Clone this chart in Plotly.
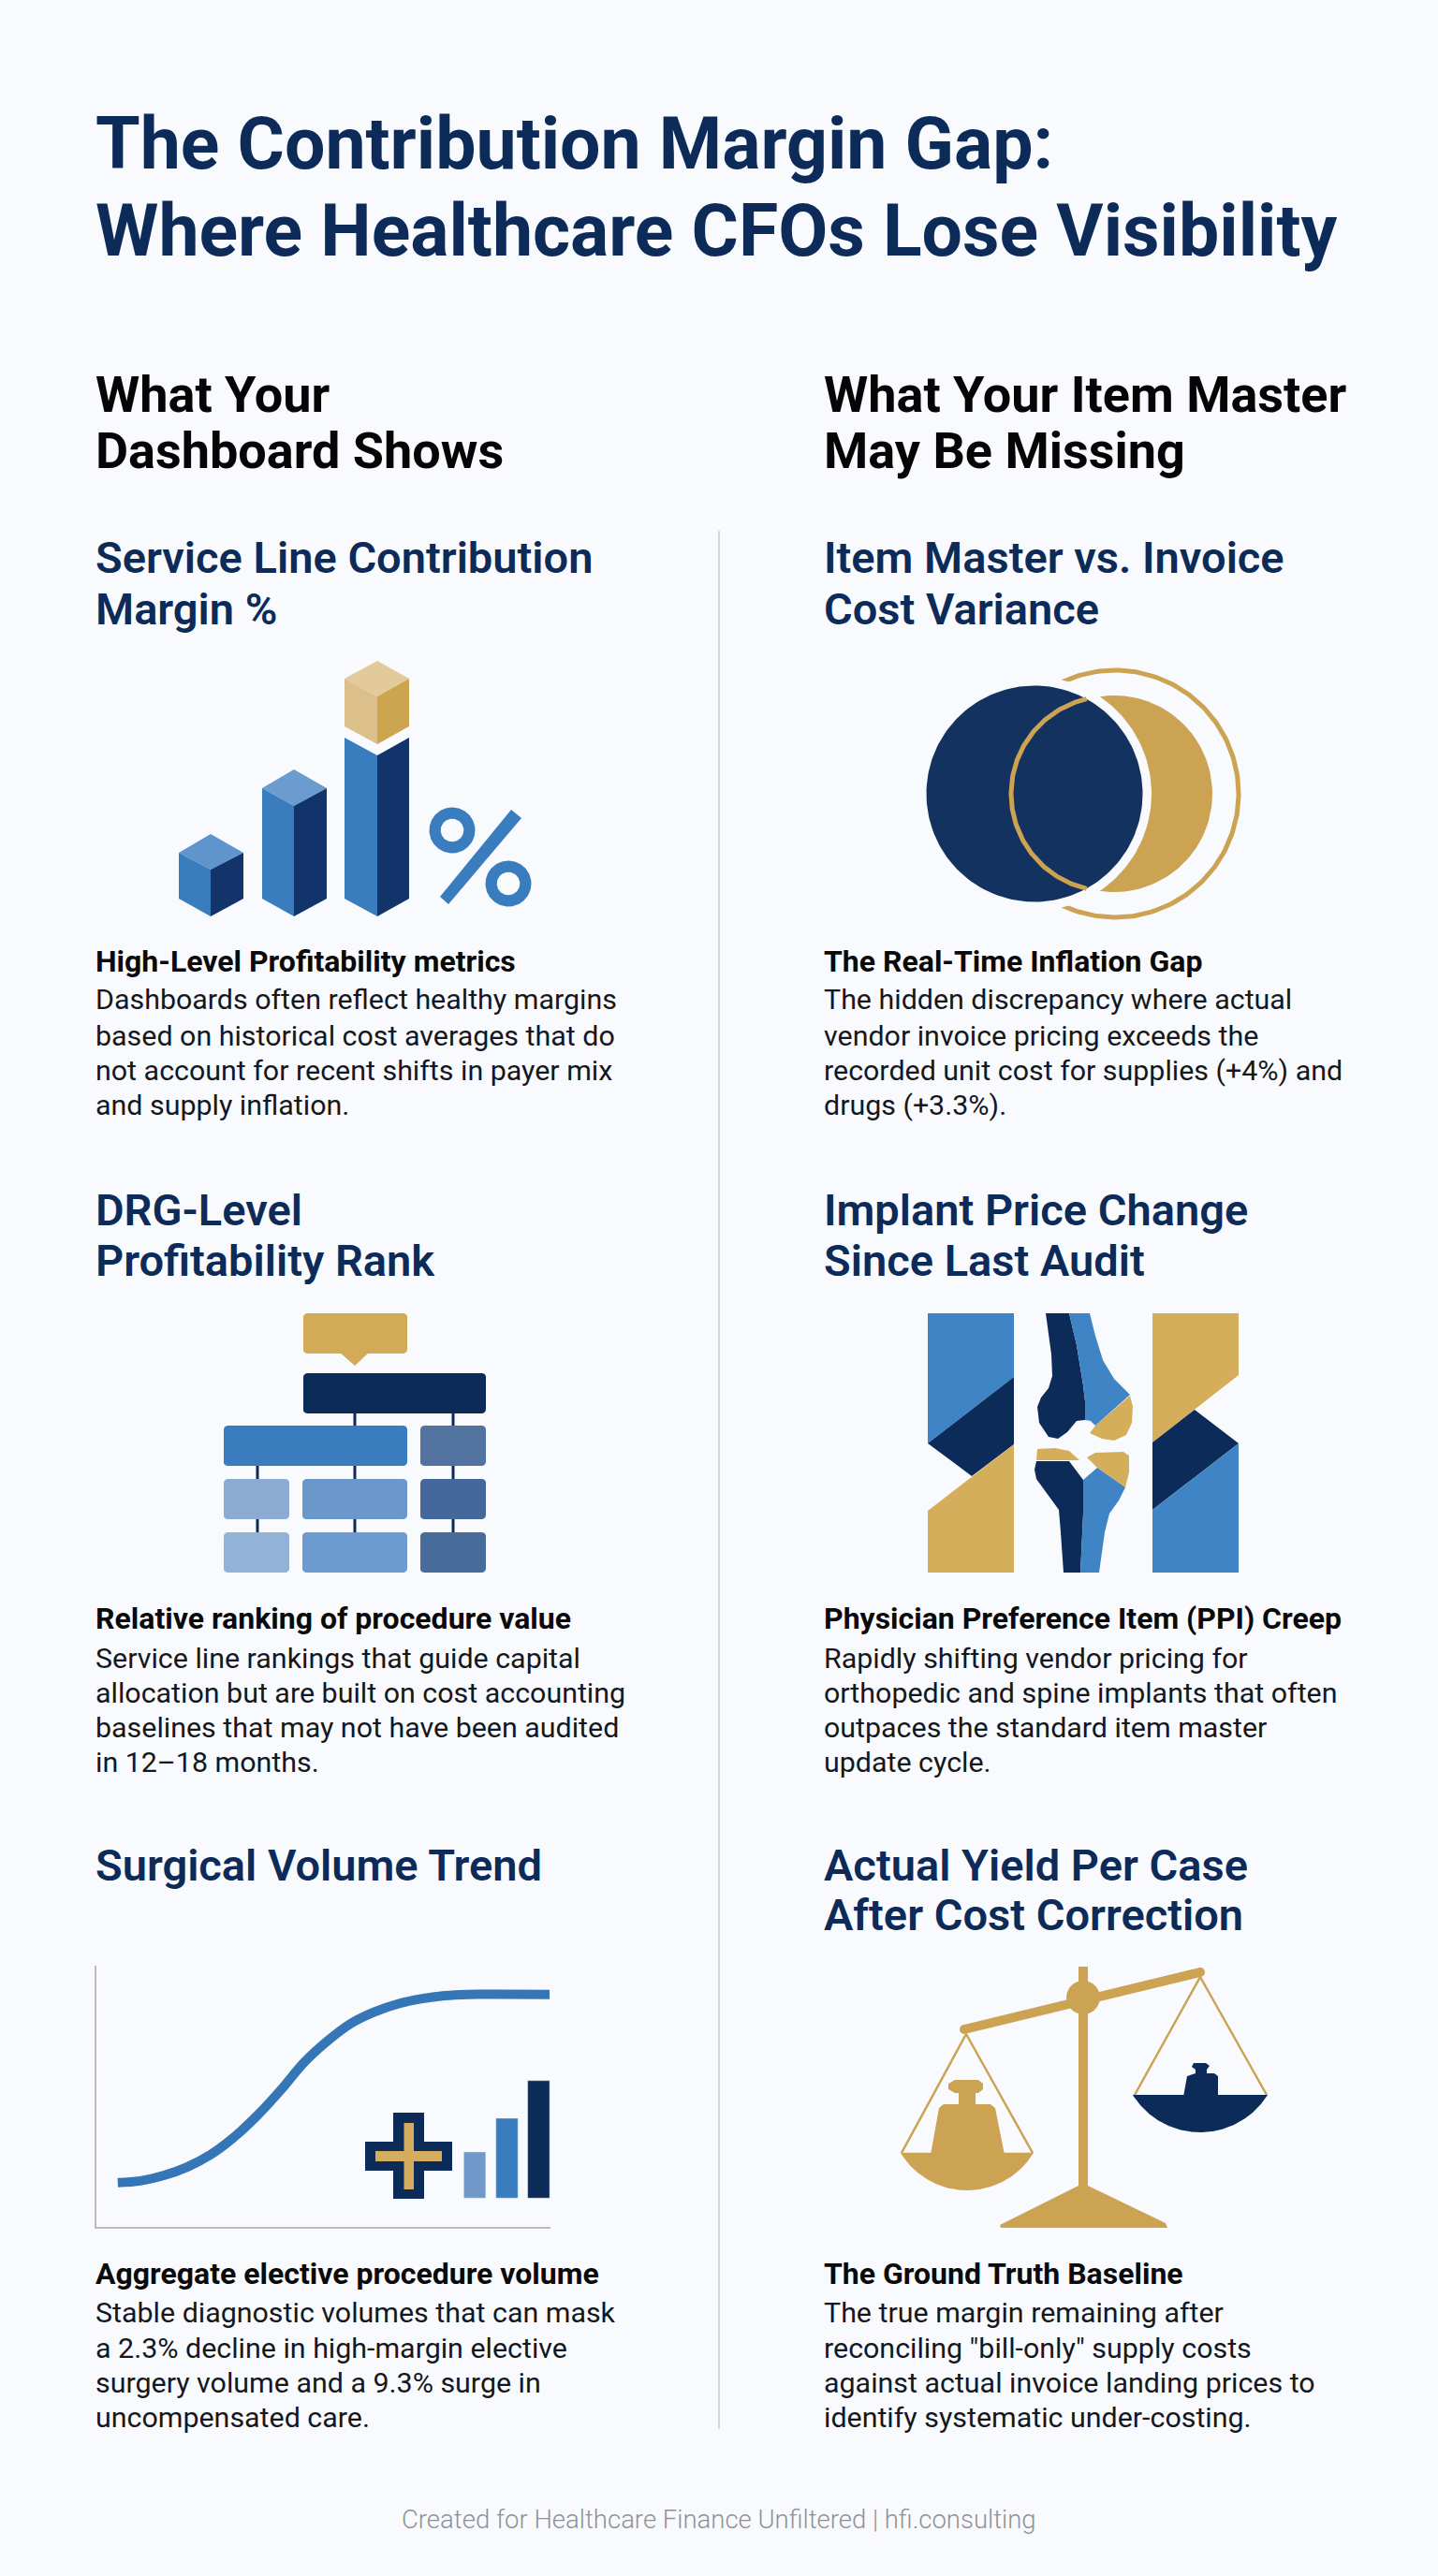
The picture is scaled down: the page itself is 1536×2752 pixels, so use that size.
#!/usr/bin/env python3

import numpy
import plotly.graph_objs as go

navy = '#0D2B58'
blue = '#3A7DBF'
gold = '#CBA353'
paper = '#F9FAFE'

titleLines = ["The Contribution Margin Gap:", "Where Healthcare CFOs Lose Visibility"]
columnHeads = [["What Your", "Dashboard Shows"], ["What Your Item Master", "May Be Missing"]]
sectionHeads = [
    [["Service Line Contribution", "Margin %"], ["DRG-Level", "Profitability Rank"], ["Surgical Volume Trend"]],
    [["Item Master vs. Invoice", "Cost Variance"], ["Implant Price Change", "Since Last Audit"], ["Actual Yield Per Case", "After Cost Correction"]],
]
subHeads = [
    ["High-Level Profitability metrics", "Relative ranking of procedure value", "Aggregate elective procedure volume"],
    ["The Real-Time Inflation Gap", "Physician Preference Item (PPI) Creep", "The Ground Truth Baseline"],
]
bodyLines = [
    [
        ["Dashboards often reflect healthy margins", "based on historical cost averages that do", "not account for recent shifts in payer mix", "and supply inflation."],
        ["Service line rankings that guide capital", "allocation but are built on cost accounting", "baselines that may not have been audited", "in 12–18 months."],
        ["Stable diagnostic volumes that can mask", "a 2.3% decline in high-margin elective", "surgery volume and a 9.3% surge in", "uncompensated care."],
    ],
    [
        ["The hidden discrepancy where actual", "vendor invoice pricing exceeds the", "recorded unit cost for supplies (+4%) and", "drugs (+3.3%)."],
        ["Rapidly shifting vendor pricing for", "orthopedic and spine implants that often", "outpaces the standard item master", "update cycle."],
        ["The true margin remaining after", "reconciling \"bill-only\" supply costs", "against actual invoice landing prices to", "identify systematic under-costing."],
    ],
]
footerText = "Created for Healthcare Finance Unfiltered | hfi.consulting"

columnX = [100.5, 879]
sectionY = [[595, 650], [1292, 1346], [1992, 2045]]
subY = [1027, 1729, 2429]
bodyY = [[1067, 1106, 1143, 1180], [1771, 1808, 1845, 1882], [2470, 2508, 2545, 2582]]

# surgical volume trend, index units on its own small axes
trendX = [4.7, 9.7, 14.9, 20, 25.2, 30.3, 35.5, 40.7, 45.8, 51, 56.1, 61.3, 66.5, 71.6, 76.8, 81.9, 88.8, 99.9]
trendY = [16.9, 17.6, 19.7, 22.9, 27.7, 34.3, 42.7, 52.5, 63, 71.3, 77.9, 82.3, 85.4, 87.3, 88.5, 89, 89.1, 89]
trendBarX = [83.4, 90.5, 97.5]
trendBarTop = [28.7, 41.6, 56]
trendBarBase = 11

# isometric bars of the first icon: left, centre, right, apex, shoulder, mid
cubeLeft = [191, 280, 368]
cubeMid = [225, 314, 403]
cubeRight = [260, 349, 437]
cubeApex = [891, 822]
cubeShoulder = [911, 842]
cubeCentre = [929, 861]
cubeTopColors = ['#5F95CC', '#6C9CCF']

# org chart blocks of the second icon
orgLeft = [324, 324, 239, 449, 239, 323, 449, 239, 323, 449]
orgRight = [435, 519, 435, 519, 309, 435, 519, 309, 435, 519]
orgTop = [1403, 1467, 1523, 1523, 1580, 1580, 1580, 1637, 1637, 1637]
orgBottom = [1446, 1510, 1566, 1566, 1623, 1623, 1623, 1680, 1680, 1680]
orgColors = ['#D2AA58', navy, '#3A7DBF', '#52739F', '#8CABD3', '#6A98CB', '#44689A', '#93B2D8', '#6C9BD0', '#476C9C']
orgLinkX = [379, 484, 275, 379, 484, 275, 379, 484]
orgLinkTop = [1510, 1510, 1566, 1566, 1566, 1623, 1623, 1623]
orgLinkBottom = [1523, 1523, 1580, 1580, 1580, 1637, 1637, 1637]

# knee implant icon, outlines read in pixels from the crop
kneeParts = [
    ('#3F84C4', [(991, 1403), (1083, 1403), (1083, 1471), (991, 1542)]),
    (navy, [(991, 1542), (1083, 1471), (1083, 1543), (1038, 1577)]),
    ('#D5AE5C', [(991, 1614), (1083, 1543), (1083, 1680), (991, 1680)]),
    ('#D5AE5C', [(1231, 1403), (1323, 1403), (1323, 1469), (1231, 1541)]),
    (navy, [(1231, 1541), (1276, 1506), (1323, 1542), (1231, 1613)]),
    ('#3F84C4', [(1231, 1613), (1323, 1542), (1323, 1680), (1231, 1680)]),
    (navy, [(1117, 1403), (1142, 1403), (1150, 1437), (1157, 1480), (1159, 1497), (1159, 1517), (1150, 1518), (1140, 1530), (1130, 1537), (1120, 1535), (1110, 1520), (1108, 1503), (1112, 1493), (1120, 1483), (1124, 1470), (1123, 1447)]),
    ('#3F84C4', [(1142, 1403), (1164, 1403), (1170, 1427), (1178, 1453), (1190, 1473), (1207, 1490), (1170, 1523), (1165, 1518), (1159, 1517), (1159, 1497), (1157, 1480), (1150, 1437)]),
    ('#D5AE5C', [(1207, 1491), (1210, 1503), (1209, 1520), (1203, 1533), (1190, 1539), (1177, 1537), (1164, 1531), (1170, 1523)]),
    ('#D5AE5C', [(1108, 1548), (1127, 1547), (1142, 1550), (1153, 1560), (1107, 1560)]),
    ('#D5AE5C', [(1161, 1557), (1170, 1552), (1200, 1551), (1206, 1555), (1206, 1573), (1202, 1589), (1172, 1568)]),
    (navy, [(1107, 1561), (1142, 1561), (1157, 1581), (1157, 1617), (1154, 1680), (1136, 1680), (1133, 1637), (1131, 1613), (1107, 1580), (1105, 1570)]),
    ('#3F84C4', [(1157, 1581), (1172, 1568), (1202, 1589), (1195, 1603), (1185, 1617), (1180, 1637), (1174, 1680), (1154, 1680), (1157, 1617)]),
]

# scales icon
scalePost = [(1152, 2101), (1162, 2101), (1162, 2335), (1152, 2335)]
scaleBase = [(1152, 2335), (1162, 2335), (1245, 2375), (1247, 2380), (1069, 2380), (1068, 2377)]
scaleBeamX = [1030, 1282]
scaleBeamY = [2168, 2107]
scaleLeftWeight = [(994, 2302), (1003, 2252), (1008, 2248), (1024, 2248), (1024, 2236), (1020, 2236), (1013, 2232), (1013, 2226), (1020, 2222), (1045, 2222), (1050, 2226), (1050, 2232), (1045, 2236), (1042, 2236), (1042, 2248), (1058, 2248), (1063, 2252), (1073, 2302)]
scaleRightWeight = [(1264, 2240), (1268, 2218), (1277, 2215), (1277, 2211), (1273, 2208), (1275, 2204), (1288, 2204), (1292, 2207), (1289, 2211), (1289, 2215), (1297, 2215), (1301, 2218), (1301, 2240)]
crossOuter = [(420, 2257), (453, 2257), (453, 2288), (483, 2288), (483, 2319), (453, 2319), (453, 2349), (420, 2349), (420, 2319), (390, 2319), (390, 2288), (420, 2288)]
crossInner = [(431.5, 2268), (442, 2268), (442, 2298), (472, 2298), (472, 2309), (442, 2309), (442, 2339), (431.5, 2339), (431.5, 2309), (401, 2309), (401, 2298), (431.5, 2298)]


def circle(cx, cy, r, start=0, stop=360):
    angles = numpy.radians(numpy.linspace(start, stop, 181))
    return list(zip(cx + r * numpy.cos(angles), cy + r * numpy.sin(angles)))


def roundRect(x0, x1, y0, y1, r=4):
    points = circle(x1 - r, y0 + r, r, -90, 0) + circle(x1 - r, y1 - r, r, 0, 90)
    return points + circle(x0 + r, y1 - r, r, 90, 180) + circle(x0 + r, y0 + r, r, 180, 270)


fig = go.Figure()


def fillShape(points, color):
    fig.add_trace(go.Scatter(x=[p[0] for p in points], y=[p[1] for p in points], mode='lines', fill='toself',
                             fillcolor=color, line=dict(width=0), hoverinfo='skip', xaxis='x', yaxis='y'))


def strokeShape(xs, ys, color, width):
    fig.add_trace(go.Scatter(x=xs, y=ys, mode='lines', line=dict(color=color, width=width), hoverinfo='skip', xaxis='x', yaxis='y'))


# divider
strokeShape([768, 768], [567, 2595], '#C9CBD0', 1.5)

# icon 1, rising bars
for i in range(3):
    left, mid, right = cubeLeft[i], cubeMid[i], cubeRight[i]
    if i < 2:
        fillShape([(mid, cubeApex[i]), (right, cubeShoulder[i]), (mid, cubeCentre[i]), (left, cubeShoulder[i])], cubeTopColors[i])
        fillShape([(left, cubeShoulder[i]), (mid, cubeCentre[i]), (mid, 979), (left, 960)], blue)
        fillShape([(right, cubeShoulder[i]), (mid, cubeCentre[i]), (mid, 979), (right, 960)], '#13346A')
    else:
        fillShape([(left, 788), (mid, 807), (mid, 979), (left, 960)], blue)
        fillShape([(right, 788), (mid, 807), (mid, 979), (right, 960)], '#13346A')
        fillShape([(mid, 706), (right, 725), (mid, 744), (left, 725)], '#E2CA9A')
        fillShape([(left, 725), (mid, 744), (mid, 795), (left, 776)], '#DBC08B')
        fillShape([(right, 725), (mid, 744), (mid, 795), (right, 776)], '#CDA550')
fillShape(circle(483, 887, 24.5), blue)
fillShape(circle(483, 887, 12.3), paper)
fillShape(circle(543, 944, 24.5), blue)
fillShape(circle(543, 944, 12.3), paper)
fillShape([(546, 865), (557, 874), (479, 966), (470, 958)], blue)

# icon 2, overlapping circles
outerArc = circle(1191, 848, 132, -115, 115)
strokeShape([p[0] for p in outerArc], [p[1] for p in outerArc], '#CBA353', 5)
fillShape(circle(1190, 848, 105), '#CBA353')
fillShape(circle(1105, 848, 125), paper)
fillShape(circle(1105, 848, 115.5), '#13325F')
innerArc = circle(1184, 848, 104, 103, 257)
strokeShape([p[0] for p in innerArc], [p[1] for p in innerArc], '#CBA353', 5)

# icon 3, ranking blocks
for i in range(len(orgLinkX)):
    strokeShape([orgLinkX[i], orgLinkX[i]], [orgLinkTop[i], orgLinkBottom[i]], navy, 3)
for i in range(len(orgLeft)):
    fillShape(roundRect(orgLeft[i], orgRight[i], orgTop[i], orgBottom[i]), orgColors[i])
fillShape([(363, 1445), (379, 1459), (394, 1445)], orgColors[0])

# icon 4, knee
for color, outline in kneeParts:
    fillShape(outline, color)

# icon 5, trend extras on the page axes
fillShape(crossOuter, navy)
fillShape(crossInner, '#D4AE5E')

# icon 6, scales
strokeShape(scaleBeamX, scaleBeamY, gold, 10)
fig.add_trace(go.Scatter(x=scaleBeamX, y=scaleBeamY, mode='markers', marker=dict(color=gold, size=10), hoverinfo='skip', xaxis='x', yaxis='y'))
fillShape(scalePost, gold)
fillShape(scaleBase, gold)
fillShape(circle(1157, 2134, 18), gold)
strokeShape([963, 1032, 1103], [2300, 2173, 2300], gold, 2.5)
strokeShape([1212, 1282, 1353], [2238, 2112, 2238], gold, 2.5)
fillShape(circle(1033, 2257, 83, 31, 149), gold)
fillShape(scaleLeftWeight, gold)
fillShape(circle(1282, 2193, 85, 32, 148), navy)
fillShape(scaleRightWeight, navy)

# trend panel
fig.add_trace(go.Scatter(x=trendX, y=trendY, mode='lines', line=dict(color='#3476B6', width=10, shape='spline', smoothing=1),
                         hoverinfo='skip', xaxis='x2', yaxis='y2'))
fig.add_trace(go.Bar(x=trendBarX, y=[t - trendBarBase for t in trendBarTop], base=trendBarBase, width=4.85,
                     marker=dict(color=['#7098C8', '#3A7DBF', navy]), hoverinfo='skip', xaxis='x2', yaxis='y2'))

annotations = []


def addText(x, y, text, size, color, weight, anchor='left', family='Roboto'):
    annotations.append(dict(x=x, y=y, xref='x', yref='y', text=text, showarrow=False, xanchor=anchor, yanchor='middle',
                            font=dict(family=family, size=size, color=color, weight=weight), borderpad=0))


for line, y in zip(titleLines, [154, 247]):
    addText(columnX[0], y, line, 77, navy, 700)
for c in range(2):
    for line, y in zip(columnHeads[c], [421, 481]):
        addText(columnX[c], y, line, 54, '#050505', 700)
    for r in range(3):
        for line, y in zip(sectionHeads[c][r], sectionY[r]):
            addText(columnX[c], y, line, 47, navy, 600)
        addText(columnX[c], subY[r], subHeads[c][r], 32, '#0A0A0A', 700)
        for line, y in zip(bodyLines[c][r], bodyY[r]):
            addText(columnX[c], y, line, 30.4, '#14171C', 400)
addText(768, 2691, footerText, 27.5, '#8E9298', 300, anchor='center')

axisOff = dict(visible=False, fixedrange=True)
fig.update_layout(
    width=1536,
    height=2752,
    margin=dict(l=0, r=0, t=0, b=0),
    paper_bgcolor=paper,
    plot_bgcolor='rgba(0,0,0,0)',
    showlegend=False,
    annotations=annotations,
    xaxis=dict(range=[0, 1536], domain=[0, 1], **axisOff),
    yaxis=dict(range=[2752, 0], domain=[0, 1], **axisOff),
    xaxis2=dict(range=[0, 100], domain=[103 / 1536, 587.5 / 1536], anchor='y2', showline=True, linecolor='#BDBDBD', linewidth=2,
                showgrid=False, zeroline=False, showticklabels=False, ticks='', fixedrange=True),
    yaxis2=dict(range=[0, 100], domain=[1 - 2379 / 2752, 1 - 2100 / 2752], anchor='x2', showline=True, linecolor='#BDBDBD', linewidth=2,
                showgrid=False, zeroline=False, showticklabels=False, ticks='', fixedrange=True),
)

# plotly leaves the browser's default body margin in place
fig.write_html("out.html", config={'displayModeBar': False},
               post_script="document.body.style.margin='0';document.body.style.overflow='hidden';document.body.style.background='%s';" % paper)
